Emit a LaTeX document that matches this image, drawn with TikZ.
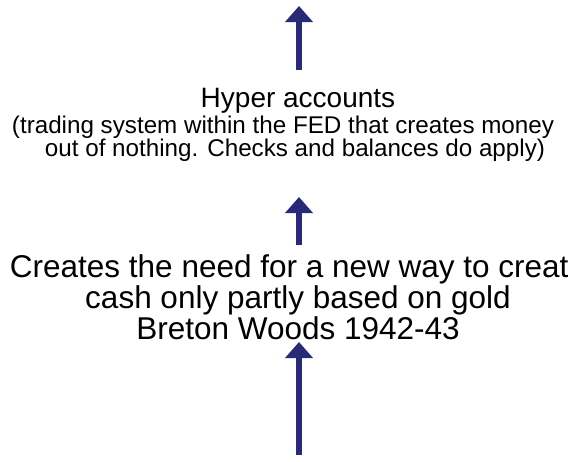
\documentclass[tikz,border=0pt]{standalone}
\usepackage{fontspec}
\setmainfont{Liberation Sans}
\usetikzlibrary{arrows.meta}
\definecolor{arrowblue}{RGB}{41,41,122}
\begin{document}
\begin{tikzpicture}[x=1pt,y=-1pt,
  head/.style={font=\fontsize{28}{33.6}\selectfont, inner sep=0pt, anchor=base},
  big/.style={font=\fontsize{31.5}{37.8}\selectfont, inner sep=0pt, anchor=base},
  small/.style={font=\fontsize{24.2}{29}\selectfont, inner sep=0pt, anchor=base},
  uparrow/.style={draw=arrowblue, line width=5.5pt, -{Triangle[width=27pt,length=16pt]}}]
\useasboundingbox (0,0) rectangle (568,461);
\clip (0,0) rectangle (568,461);
% texts
\node[head]  (hyper) at (298,107) {Hyper accounts};
\node[small] (sub1)  at (283,133) {(trading system within the FED that creates money};
\node[small] (sub2)  at (295,156) {out of nothing. Checks and balances do apply)};
\node[big]   (c1)    at (298,277) {Creates the need for a new way to create};
\node[big]   (c2)    at (298,308) {cash only partly based on gold};
\node[big]   (c3)    at (298,339) {Breton Woods 1942-43};
% arrow ends
\coordinate (a1b) at (299,70);  \coordinate (a1t) at (299,6);
\coordinate (a2b) at (299,245); \coordinate (a2t) at (299,197);
\coordinate (a3b) at (299,455); \coordinate (a3t) at (299,342);
\draw[uparrow] (a1b) -- (a1t);
\draw[uparrow] (a2b) -- (a2t);
\draw[uparrow] (a3b) -- (a3t);
\end{tikzpicture}
\end{document}
